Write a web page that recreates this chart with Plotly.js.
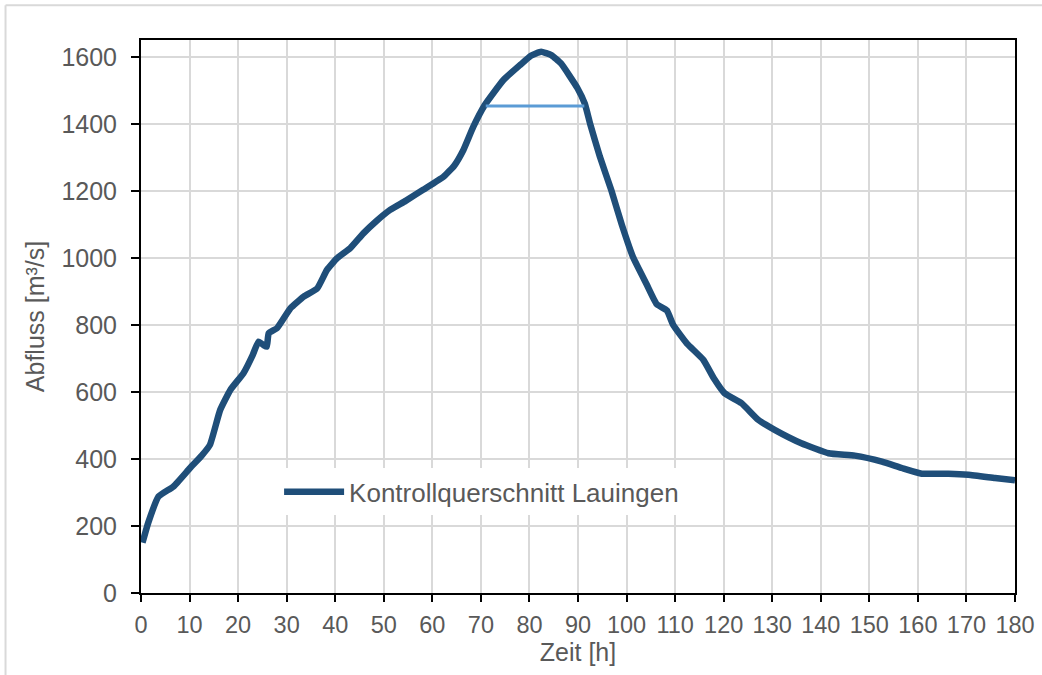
<!DOCTYPE html>
<html>
<head>
<meta charset="utf-8">
<script src="https://cdn.plot.ly/plotly-3.0.1.min.js"></script>
<style>
  html, body { margin: 0; padding: 0; background: #fff; }
  #chart { width: 1042px; height: 675px; }
</style>
</head>
<body>
<div id="chart"></div>
<script>
// Abfluss am Kontrollquerschnitt Lauingen
var zeit = [0.3, 1.5, 3.6, 6.7, 10.1, 12.5, 14.2, 16.3, 18.4, 21.1, 23.0, 24.2, 25.2, 25.9, 26.3,
            28.0, 30.8, 33.5, 36.3, 38.3, 40.4, 43.1, 45.8, 48.5, 51.3, 54.5, 58.1, 62.3, 64.5,
            66.4, 68.4, 70.8, 74.6, 78.2, 80.3, 82.4, 84.5, 86.5, 89.9, 91.4, 92.5, 94.5, 96.9,
            99.0, 101.4, 104.1, 106.2, 108.3, 109.6, 112.4, 115.8, 118.0, 120.2, 123.7, 127.1,
            130.5, 136.0, 141.6, 147.0, 152.6, 156.7, 160.8, 166.3, 170.4, 175.9, 180.0];
var abfluss = [150, 210, 288, 318, 373, 410, 442, 546, 606, 656, 710, 750, 740, 735, 775,
               790, 850, 884, 909, 964, 999, 1029, 1073, 1110, 1143, 1170, 1203, 1242, 1275,
               1322, 1390, 1456, 1530, 1577, 1603, 1615, 1605, 1580, 1506, 1460, 1400, 1302, 1200,
               1100, 1000, 922, 862, 843, 800, 745, 696, 640, 596, 566, 517,
               487, 447, 417, 410, 392, 373, 356, 356, 353, 343, 336];

// horizontal marker line near the peak
var markX = [71.0, 91.3];
var markY = [1453, 1453];

var serieName = "Kontrollquerschnitt Lauingen";
var xTitle = "Zeit [h]";
var yTitle = "Abfluss [m³/s]";

var fontFam = "Liberation Sans, Arial, sans-serif";
var grey = "#595959";

var data = [{
  x: zeit,
  y: abfluss,
  type: "scatter",
  mode: "lines",
  name: serieName,
  line: {color: "#1f4e79", width: 6.5, shape: "spline", smoothing: 0.4}
}, {
  x: markX,
  y: markY,
  type: "scatter",
  mode: "lines",
  showlegend: false,
  line: {color: "#5b9bd5", width: 3}
}];

var layout = {
  width: 1042,
  height: 675,
  margin: {l: 141, r: 27, t: 40, b: 82},
  paper_bgcolor: "#fff",
  plot_bgcolor: "#fff",
  font: {family: fontFam, color: grey, size: 25},
  showlegend: true,
  legend: {
    x: 0.158, y: 0.183, xanchor: "left", yanchor: "middle",
    bgcolor: "#fff", itemwidth: 60,
    font: {family: fontFam, color: grey, size: 26}
  },
  xaxis: {
    range: [0, 180],
    dtick: 10,
    tick0: 0,
    showgrid: true,
    gridcolor: "#d9d9d9",
    gridwidth: 2,
    showline: true,
    linecolor: "#000",
    linewidth: 2,
    mirror: true,
    ticks: "outside",
    ticklen: 7,
    tickwidth: 2,
    tickcolor: "#000",
    ticklabelstandoff: 3,
    tickfont: {family: fontFam, color: grey, size: 23.5},
    zeroline: false,
    title: {text: xTitle, standoff: 4, font: {family: fontFam, color: grey, size: 25}}
  },
  yaxis: {
    range: [0, 1650],
    dtick: 200,
    tick0: 0,
    showgrid: true,
    gridcolor: "#d9d9d9",
    gridwidth: 2,
    showline: true,
    linecolor: "#000",
    linewidth: 2,
    mirror: true,
    ticks: "outside",
    ticklen: 8,
    tickwidth: 2,
    tickcolor: "#000",
    ticklabelstandoff: 9,
    tickfont: {family: fontFam, color: grey, size: 25},
    zeroline: false,
    title: {text: yTitle, standoff: 10, font: {family: fontFam, color: grey, size: 25}}
  },
  shapes: [
    {type: "line", xref: "paper", yref: "paper", x0: -0.155, x1: 1.1, y0: 1.063, y1: 1.063,
     line: {color: "#d9d9d9", width: 2}},
    {type: "line", xref: "paper", yref: "paper", x0: -0.155, x1: -0.155, y0: -0.2, y1: 1.063,
     line: {color: "#d9d9d9", width: 2}}
  ]
};

Plotly.newPlot("chart", data, layout, {displayModeBar: false, staticPlot: true});
</script>
</body>
</html>
